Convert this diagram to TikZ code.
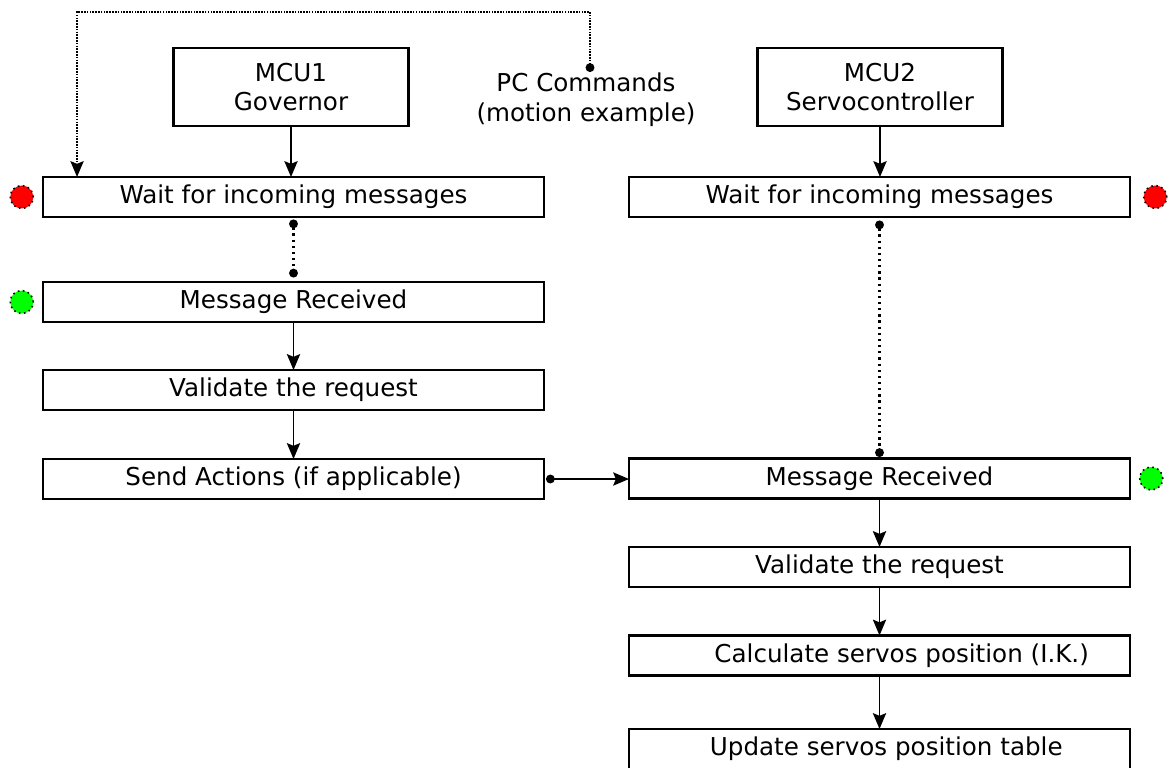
\documentclass[tikz,border=0pt]{standalone}
\usepackage{fontspec}
\setmainfont{DejaVu Sans}
\usetikzlibrary{arrows.meta, positioning}

\begin{document}
\begin{tikzpicture}[
    x=0.02cm, y=-0.02cm,
    node distance=0.18cm,
    step_box/.style={
        rectangle,
        draw,
        line width=1.4pt,
        minimum width=10.02cm,
        minimum height=0.8cm,
        inner sep=0pt,
        outer sep=0pt,
        align=center,
        font=\fontsize{14pt}{17pt}\selectfont
    },
    mcu_box/.style={
        step_box,
        minimum width=4.7cm,
        minimum height=1.56cm
    },
    status/.style={
        circle,
        draw,
        dotted,
        line width=0.9pt,
        minimum size=0.46cm,
        inner sep=0pt
    },
    arrow/.style={
        -{Stealth[length=9pt, width=7.5pt, inset=1.5pt]},
        line width=1.1pt
    },
    msg_link/.style={
        {Circle[length=5pt]}-{Circle[length=5pt]},
        line width=1.2pt,
        dash pattern=on 1.3pt off 2.2pt
    },
    pc_link/.style={
        {Circle[length=5pt]}-{Stealth[length=9pt, width=7.5pt, inset=1.5pt]},
        line width=1.1pt,
        dash pattern=on 0.9pt off 0.7pt
    }
]
\useasboundingbox (0,0) rectangle (1169,767);

% Nodes - MCU1 side
\node[mcu_box] (mcu1) at (291,87) {MCU1\\Governor};
\node[step_box] (waitL) at (293.5,197) {Wait for incoming messages};
\node[step_box] (recvL) at (293.5,302) {Message Received};
\node[step_box] (checkL) at (293.5,390) {Validate the request};
\node[step_box] (sendL) at (293.5,479) {Send Actions (if applicable)};

% Nodes - MCU2 side
\node[mcu_box, minimum width=4.9cm] (mcu2) at (880,87) {MCU2\\Servocontroller};
\node[step_box] (waitR) at (879.5,197) {Wait for incoming messages};
\node[step_box] (recvR) at (879.5,478.5) {Message Received};
\node[step_box] (checkR) at (879.5,567) {Validate the request};
\node[step_box] (calcR) at (879.5,655.5) {\hspace{1.8em}Calculate servos position (I.K.)};
\node[step_box] (updR) at (879.5,749) {\hspace{0.55em}Update servos position table};

% PC commands
\node[align=center, font=\fontsize{14pt}{17pt}\selectfont] (pc) at (586,100) {PC Commands\\(motion example)};
\coordinate (pcdot) at (590,72);
\coordinate (pctop) at (590,12);

% Status dots
\node[status, fill=red, left=of waitL] (waitLdot) {};
\node[status, fill=green, left=of recvL] (recvLdot) {};
\node[status, fill=red, right=0.26cm of waitR] (waitRdot) {};
\node[status, fill=green, right=of recvR] (recvRdot) {};

% Solid Arrows
\draw[arrow] (mcu1) -- (mcu1 |- waitL.north);
\draw[arrow] (recvL) -- (checkL);
\draw[arrow] (checkL) -- (sendL);
\draw[arrow] (mcu2) -- (mcu2 |- waitR.north);
\draw[arrow] (recvR) -- (checkR);
\draw[arrow] (checkR) -- (calcR);
\draw[arrow] (calcR) -- (updR);
\draw[arrow, {Circle[length=5pt]}-{Stealth[length=9pt, width=7.5pt, inset=1.5pt]}, shorten <=0.04cm] (sendL.east) -- (sendL.east -| recvR.west);

% Dotted links
\draw[msg_link, shorten <=0.05cm, shorten >=0.09cm] (waitL) -- (recvL);
\draw[msg_link, shorten <=0.07cm, shorten >=0.03cm] (waitR) -- (recvR);
\draw[pc_link] (pcdot) -- (pctop) -| ([xshift=0.68cm]waitL.north west);

\end{tikzpicture}
\end{document}
